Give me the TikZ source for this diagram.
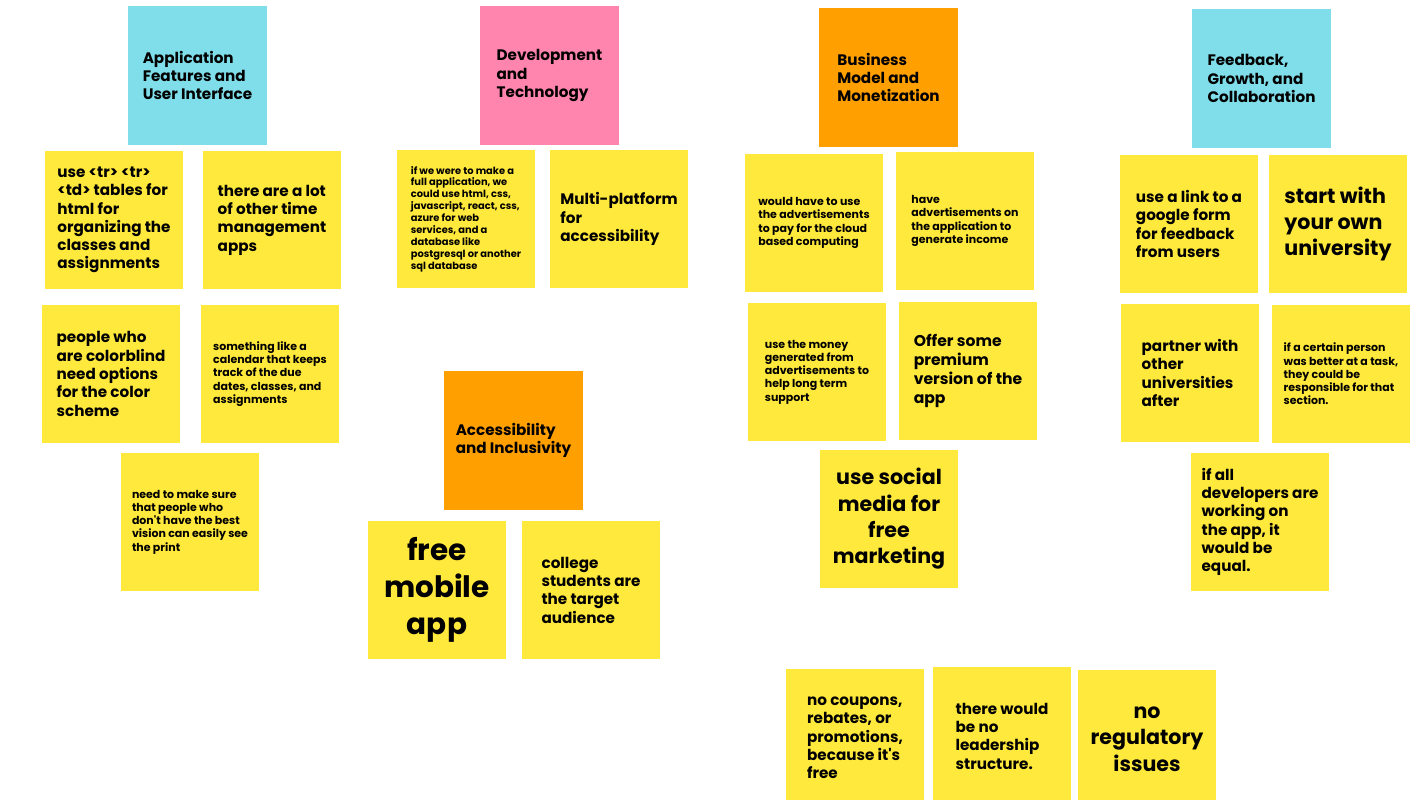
\documentclass[tikz,border=0pt]{standalone}
\usepackage{fontspec}
\setmainfont{Poppins}
\newfontfamily\rawpoppins{Poppins}
\newcommand\sq{{\rawpoppins\bfseries\symbol{39}}}
\definecolor{noteyellow}{HTML}{FFE93D}
\definecolor{hdrcyan}{HTML}{80DEEA}
\definecolor{hdrpink}{HTML}{FF85AE}
\definecolor{hdrorange}{HTML}{FF9F00}
\tikzset{
  card/.style={minimum width=138pt, minimum height=138pt, inner sep=0pt, outer sep=0pt,
    anchor=north west, align=left, text=black, font=\bfseries\fontsize{15.2}{18.3}\selectfont},
  yel/.style={card, fill=noteyellow},
  hdr/.style={card, minimum width=139pt, minimum height=139pt},
  cyanhdr/.style={hdr, fill=hdrcyan},
  pinkhdr/.style={hdr, fill=hdrpink},
  orangehdr/.style={hdr, fill=hdrorange},
  txtsm/.style={font=\bfseries\fontsize{11}{13.2}\selectfont},
  txtxs/.style={font=\bfseries\fontsize{9.9}{11.9}\selectfont},
  txtmd/.style={font=\bfseries\fontsize{15.6}{18.9}\selectfont},
  txtlg/.style={font=\bfseries\fontsize{20.6}{26.3}\selectfont},
  txtxl/.style={font=\bfseries\fontsize{29.5}{36.7}\selectfont},
}
\begin{document}
\begin{tikzpicture}[x=1pt, y=-1pt]
\useasboundingbox (0,0) rectangle (1422,800);
\fill[white] (0,0) rectangle (1422,800);
% headers
\node[cyanhdr] (h1) at (128,6) {Application\\Features and\\User Interface};
\node[pinkhdr] (h2) at (480,6) {Development\\and\\Technology};
\node[orangehdr] (h3) at (819,8) {Business\\Model and\\Monetization};
\node[cyanhdr] (h4) at (1192,9) {Feedback,\\Growth, and\\Collaboration};
\node[orangehdr] (h5) at (444,371) {Accessibility\\and Inclusivity};
% application features
\node[yel] (n1) at (45,151) {use <tr> <tr>\\<td> tables for\\html for\\organizing the\\classes and\\assignments};
\node[yel] (n2) at (203,151) {there are a lot\\of other time\\management\\apps};
\node[yel] (n3) at (42,305) {people who\\are colorblind\\need options\\for the color\\scheme};
\node[yel, txtsm] (n4) at (201,305) {something like a\\calendar that keeps\\track of the due\\dates, classes, and\\assignments};
\node[yel, txtsm] (n5) at (121,453) {need to make sure\\that people who\\don\sq t have the best\\vision can easily see\\the print};
% development
\node[yel, txtxs] (d1) at (397,150) {if we were to make a\\full application, we\\could use html, css,\\javascript, react, css,\\azure for web\\services, and a\\database like\\postgresql or another\\sql database};
\node[yel] (d2) at (550,150) {Multi-platform\\for\\accessibility};
% accessibility
\node[yel, txtxl, align=center] (a1) at (368,521) {free\\mobile\\app};
\node[yel] (a2) at (522,521) {college\\students are\\the target\\audience};
% business
\node[yel, txtsm] (b1) at (745,154) {would have to use\\the advertisements\\to pay for the cloud\\based computing};
\node[yel, txtsm] (b2) at (896,152) {have\\advertisements on\\the application to\\generate income};
\node[yel, txtsm] (b3) at (748,303) {use the money\\generated from\\advertisements to\\help long term\\support};
\node[yel, txtmd] (b4) at (899,302) {Offer some\\premium\\version of the\\app};
\node[yel, txtlg, align=center] (b5) at (820,450) {use social\\media for\\free\\marketing};
\node[yel] (b6) at (786,669) {no coupons,\\rebates, or\\promotions,\\because it\sq s\\free};
\node[yel] (b7) at (933,667) {there would\\be no\\leadership\\structure.};
\node[yel, txtlg, align=center] (b8) at (1078,670) {no\\regulatory\\issues};
% feedback
\node[yel] (f1) at (1120,155) {use a link to a\\google form\\for feedback\\from users};
\node[yel, txtlg] (f2) at (1269,155) {start with\\your own\\university};
\node[yel] (f3) at (1121,304) {partner with\\other\\universities\\after};
\node[yel, txtsm] (f4) at (1272,305) {if a certain person\\was better at a task,\\they could be\\responsible for that\\section.};
\node[yel] (f5) at (1191,453) {if all\\developers are\\working on\\the app, it\\would be\\equal.};
\end{tikzpicture}
\end{document}
